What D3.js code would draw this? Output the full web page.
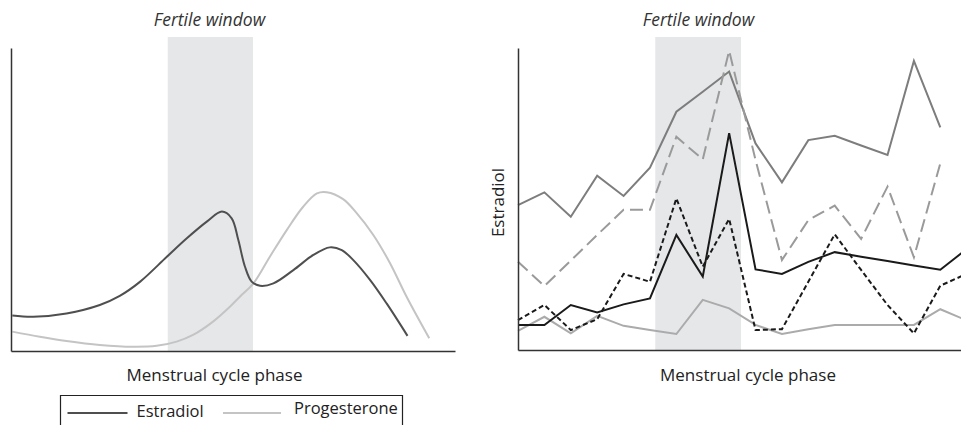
<!DOCTYPE html>
<html>
<head>
<meta charset="utf-8">
<script src="https://cdn.jsdelivr.net/npm/d3@7"></script>
<style>
  body { margin: 0; background: #fff; }
  svg { display: block; font-family: "Open Sans", sans-serif; }
</style>
</head>
<body>
<div id="vis"></div>
<script>
// ---- left panel: idealised hormone curves (phase 0-100, level 0-100)
var estradiolPhase = [0.3, 5.0, 12.5, 20.0, 24.5, 29.1, 35.1, 39.6, 44.1, 47.5, 49.7, 51.2, 52.7, 54.2, 56.1, 59.1, 63.6, 68.1, 71.8, 74.5, 77.1, 80.9, 84.6, 89.3];
var estradiolLevel = [11.7, 11.3, 12.4, 15.2, 18.2, 22.9, 31.1, 37.2, 42.7, 46.0, 43.8, 36.6, 27.8, 22.9, 21.5, 22.3, 26.7, 31.7, 34.2, 33.3, 30.0, 23.4, 15.7, 5.0];
var progesteronePhase = [0.3, 6.5, 12.5, 20.0, 27.5, 32.8, 37.3, 41.0, 45.5, 49.3, 51.6, 54.6, 58.3, 62.1, 65.8, 68.9, 71.1, 74.8, 77.9, 81.6, 85.4, 89.1, 94.2];
var progesteroneLevel = [6.4, 4.7, 3.3, 2.0, 1.4, 1.7, 3.1, 5.3, 9.7, 14.6, 18.0, 22.3, 31.1, 39.9, 47.6, 52.0, 52.4, 50.1, 45.4, 38.3, 28.9, 17.9, 4.2];
var fertileLeft = [35.3, 54.5];

// ---- right panel: individual estradiol traces, one value per measurement
var traceA = [48.0, 52.2, 44.1, 57.7, 51.0, 60.4, 78.9, 85.5, 92.2, 68.4, 55.5, 69.5, 70.9, 67.7, 64.6, 95.7, 73.7];
var traceB = [29.2, 21.2, 29.6, 38.1, 46.4, 46.4, 70.6, 63.1, 99.1, 62.9, 29.8, 43.0, 47.8, 36.8, 54.1, 30.7, 61.8];
var traceC = [8.3, 8.3, 14.9, 12.4, 15.1, 17.1, 38.1, 24.3, 71.8, 26.7, 25.2, 29.2, 32.4, 30.9, 29.5, 28.0, 26.6, 33.4];
var traceD = [9.9, 14.9, 6.6, 10.2, 25.2, 22.6, 50.2, 27.6, 43.4, 6.6, 6.9, 22.6, 38.3, 26.5, 14.9, 5.5, 21.3, 25.2];
var traceE = [6.3, 11.0, 5.5, 11.3, 8.0, 6.6, 5.3, 16.6, 13.8, 8.3, 5.3, 6.9, 8.3, 8.3, 8.3, 8.3, 13.5, 9.8];
var fertileRight = [5.2, 8.45];

var titleText = 'Fertile window';
var xLabel = 'Menstrual cycle phase';
var yLabel = 'Estradiol';
var legendNames = ['Estradiol', 'Progesterone'];

var width = 961, height = 425;

var svg = d3.select('#vis')
  .append('svg')
  .attr('width', width)
  .attr('height', height);

var shade = '#e6e7e9';
var axisColour = '#333';

// ================= left panel =================
var xL = d3.scaleLinear().domain([0, 100]).range([11, 455]);
var yL = d3.scaleLinear().domain([0, 100]).range([351, 48]);

var left = svg.append('g');

left.append('rect')
  .attr('x', xL(fertileLeft[0]))
  .attr('width', xL(fertileLeft[1]) - xL(fertileLeft[0]))
  .attr('y', 37)
  .attr('height', yL(0) - 37)
  .attr('fill', shade);

var lineL = d3.line()
  .x(function(d) { return xL(d[0]); })
  .y(function(d) { return yL(d[1]); })
  .curve(d3.curveCatmullRom.alpha(0.5));

left.append('path')
  .datum(d3.zip(progesteronePhase, progesteroneLevel))
  .attr('d', lineL)
  .attr('fill', 'none')
  .attr('stroke', '#c4c4c4')
  .attr('stroke-width', 2);

left.append('path')
  .datum(d3.zip(estradiolPhase, estradiolLevel))
  .attr('d', lineL)
  .attr('fill', 'none')
  .attr('stroke', '#4f4f4f')
  .attr('stroke-width', 2);

left.append('g')
  .attr('transform', 'translate(0,' + yL(0) + ')')
  .call(d3.axisBottom(xL).ticks(0).tickSizeOuter(0));
left.append('g')
  .attr('transform', 'translate(' + xL(0) + ',0)')
  .call(d3.axisLeft(yL).ticks(0).tickSizeOuter(0));

left.append('text')
  .attr('x', 209.5).attr('y', 26)
  .attr('text-anchor', 'middle')
  .style('font-style', 'italic')
  .style('font-size', '17.5px')
  .attr('fill', '#333')
  .text(titleText);

left.append('text')
  .attr('x', 214.5).attr('y', 381)
  .attr('text-anchor', 'middle')
  .style('font-size', '17px')
  .attr('fill', '#222')
  .text(xLabel);

// legend (box runs off the bottom of the picture)
var legend = svg.append('g');
legend.append('path')
  .attr('d', 'M60.5,' + height + 'V395.5H402.5V' + height)
  .attr('fill', 'none')
  .attr('stroke', '#222')
  .attr('stroke-width', 1.2);

var legendItems = [
  { name: legendNames[0], colour: '#4f4f4f', x1: 67.5, x2: 127.5, tx: 136.5, ty: 417 },
  { name: legendNames[1], colour: '#c4c4c4', x1: 223, x2: 281, tx: 294, ty: 414 }
];
legendItems.forEach(function(d) {
  legend.append('line')
    .attr('x1', d.x1).attr('x2', d.x2)
    .attr('y1', 413).attr('y2', 413)
    .attr('stroke', d.colour)
    .attr('stroke-width', 2);
  legend.append('text')
    .attr('x', d.tx).attr('y', d.ty)
    .style('font-size', '16.5px')
    .attr('fill', '#222')
    .text(d.name);
});

// ================= right panel =================
var xR = d3.scaleLinear().domain([0, 16]).range([518, 940.3]);
var yR = d3.scaleLinear().domain([0, 100]).range([350, 48]);

var right = svg.append('g');

right.append('rect')
  .attr('x', xR(fertileRight[0]))
  .attr('width', xR(fertileRight[1]) - xR(fertileRight[0]))
  .attr('y', 37)
  .attr('height', yR(0) - 37)
  .attr('fill', shade);

var traces = [
  { values: traceE, colour: '#ababab', dash: null },
  { values: traceA, colour: '#7d7d7d', dash: null },
  { values: traceB, colour: '#9a9a9a', dash: '13,6' },
  { values: traceD, colour: '#1a1a1a', dash: '5,3' },
  { values: traceC, colour: '#1a1a1a', dash: null }
];

var lineR = d3.line()
  .x(function(d, i) { return xR(i); })
  .y(function(d) { return yR(d); });

right.selectAll('.trace')
  .data(traces)
  .enter()
  .append('path')
  .attr('class', 'trace')
  .attr('d', function(d) { return lineR(d.values); })
  .attr('fill', 'none')
  .attr('stroke', function(d) { return d.colour; })
  .attr('stroke-width', 2)
  .attr('stroke-dasharray', function(d) { return d.dash; });

right.append('g')
  .attr('transform', 'translate(0,' + yR(0) + ')')
  .call(d3.axisBottom(d3.scaleLinear().range([518, width])).ticks(0).tickSizeOuter(0));
right.append('g')
  .attr('transform', 'translate(' + xR(0) + ',0)')
  .call(d3.axisLeft(yR).ticks(0).tickSizeOuter(0));

right.append('text')
  .attr('x', 698.5).attr('y', 26)
  .attr('text-anchor', 'middle')
  .style('font-style', 'italic')
  .style('font-size', '17.5px')
  .attr('fill', '#333')
  .text(titleText);

right.append('text')
  .attr('x', 748).attr('y', 381)
  .attr('text-anchor', 'middle')
  .style('font-size', '17px')
  .attr('fill', '#222')
  .text(xLabel);

right.append('text')
  .attr('transform', 'translate(504,202.5) rotate(-90)')
  .attr('text-anchor', 'middle')
  .style('font-size', '17px')
  .attr('fill', '#222')
  .text(yLabel);

svg.selectAll('.domain')
  .attr('stroke', axisColour)
  .attr('stroke-width', 1.5);
</script>
</body>
</html>
